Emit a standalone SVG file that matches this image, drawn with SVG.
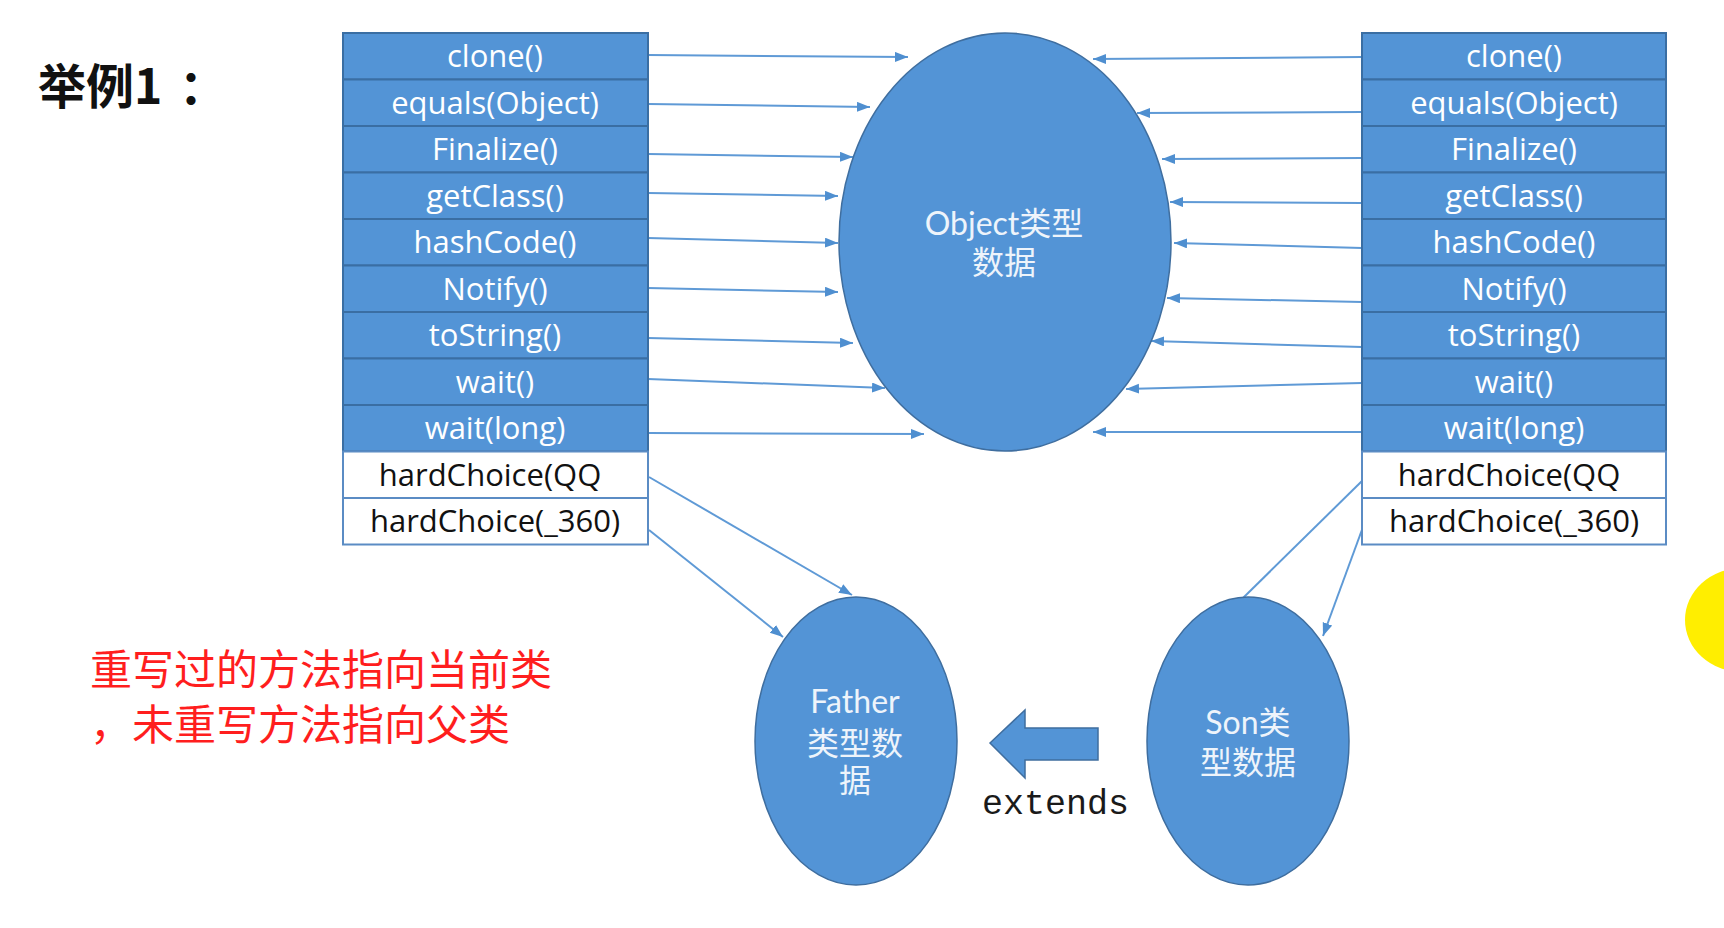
<svg xmlns="http://www.w3.org/2000/svg" width="1724" height="928" viewBox="0 0 1724 928">
<defs>
<style>
.row{fill:#5394d6;stroke:#3a6ea3;stroke-width:2}
.wrow{fill:#ffffff;stroke:#5b8cc4;stroke-width:2}
.rt{font-family:"Open Sans","Noto Sans CJK SC",sans-serif;font-size:31px;fill:#ffffff;text-anchor:middle}
.wt{font-family:"Open Sans","Noto Sans CJK SC",sans-serif;font-size:31px;fill:#111111;text-anchor:middle}
.ell{fill:#5394d6;stroke:#3f6e9f;stroke-width:1.5}
.et{font-family:"Lato","Noto Sans CJK SC",sans-serif;font-size:32px;fill:#eef4fb;text-anchor:middle}
.con{stroke:#5f9ad6;stroke-width:2;fill:none}
.arr{marker-end:url(#ah)}
</style>
<marker id="ah" markerUnits="userSpaceOnUse" markerWidth="14" markerHeight="12" refX="13" refY="5" orient="auto">
<path d="M0,0 L13,5 L0,10 z" fill="#4f8fd0"/>
</marker>
</defs>
<rect width="1724" height="928" fill="#ffffff"/>

<text id="title" x="38" y="104" font-family="Noto Sans CJK SC,sans-serif" font-weight="bold" font-size="48" fill="#111111">举例1<tspan x="179">：</tspan></text>

<g id="note" font-family="Noto Sans CJK SC,sans-serif" font-size="42" fill="#ff1e1e">
<text x="90" y="685">重写过的方法指向当前类</text>
<text x="90" y="740">，未重写方法指向父类</text>
</g>

<g id="connectors">
<line class="con arr" x1="648" y1="55" x2="908" y2="57"/>
<line class="con arr" x1="648" y1="104" x2="870" y2="107"/>
<line class="con arr" x1="648" y1="154" x2="853" y2="157"/>
<line class="con arr" x1="648" y1="193" x2="838" y2="196"/>
<line class="con arr" x1="648" y1="238" x2="838" y2="243"/>
<line class="con arr" x1="648" y1="288" x2="838" y2="292"/>
<line class="con arr" x1="648" y1="338" x2="853" y2="343"/>
<line class="con arr" x1="648" y1="379" x2="885" y2="388"/>
<line class="con arr" x1="648" y1="433" x2="924" y2="434"/>
<line class="con arr" x1="1362" y1="57" x2="1093" y2="59"/>
<line class="con arr" x1="1362" y1="112" x2="1137" y2="113"/>
<line class="con arr" x1="1362" y1="158" x2="1162" y2="159"/>
<line class="con arr" x1="1362" y1="203" x2="1170" y2="202"/>
<line class="con arr" x1="1362" y1="248" x2="1174" y2="243"/>
<line class="con arr" x1="1362" y1="302" x2="1167" y2="298"/>
<line class="con arr" x1="1362" y1="347" x2="1151" y2="341"/>
<line class="con arr" x1="1362" y1="383" x2="1126" y2="389"/>
<line class="con arr" x1="1362" y1="432" x2="1093" y2="432"/>
<line class="con arr" x1="649" y1="477" x2="852" y2="595"/>
<line class="con arr" x1="649" y1="530" x2="783" y2="637"/>
<line class="con" x1="1363" y1="480" x2="1243" y2="598"/>
<line class="con arr" x1="1363" y1="527" x2="1323" y2="636"/>
</g>

<g id="left-methods">
<rect class="row" x="343" y="33" width="305" height="46.5"/>
<rect class="row" x="343" y="79.5" width="305" height="46.5"/>
<rect class="row" x="343" y="126" width="305" height="46.5"/>
<rect class="row" x="343" y="172.5" width="305" height="46.5"/>
<rect class="row" x="343" y="219" width="305" height="46.5"/>
<rect class="row" x="343" y="265.5" width="305" height="46.5"/>
<rect class="row" x="343" y="312" width="305" height="46.5"/>
<rect class="row" x="343" y="358.5" width="305" height="46.5"/>
<rect class="row" x="343" y="405" width="305" height="46.5"/>
<rect class="wrow" x="343" y="451.5" width="305" height="46.5"/>
<rect class="wrow" x="343" y="498" width="305" height="46.5"/>
<text class="rt" x="495" y="67">clone()</text>
<text class="rt" x="495" y="113.5">equals(Object)</text>
<text class="rt" x="495" y="160">Finalize()</text>
<text class="rt" x="495" y="206.5">getClass()</text>
<text class="rt" x="495" y="253">hashCode()</text>
<text class="rt" x="495" y="299.5">Notify()</text>
<text class="rt" x="495" y="346">toString()</text>
<text class="rt" x="495" y="392.5">wait()</text>
<text class="rt" x="495" y="439">wait(long)</text>
<text class="wt" x="490" y="485.5">hardChoice(QQ</text>
<text class="wt" x="495" y="532">hardChoice(_360)</text>
</g>

<g id="right-methods">
<rect class="row" x="1362" y="33" width="304" height="46.5"/>
<rect class="row" x="1362" y="79.5" width="304" height="46.5"/>
<rect class="row" x="1362" y="126" width="304" height="46.5"/>
<rect class="row" x="1362" y="172.5" width="304" height="46.5"/>
<rect class="row" x="1362" y="219" width="304" height="46.5"/>
<rect class="row" x="1362" y="265.5" width="304" height="46.5"/>
<rect class="row" x="1362" y="312" width="304" height="46.5"/>
<rect class="row" x="1362" y="358.5" width="304" height="46.5"/>
<rect class="row" x="1362" y="405" width="304" height="46.5"/>
<rect class="wrow" x="1362" y="451.5" width="304" height="46.5"/>
<rect class="wrow" x="1362" y="498" width="304" height="46.5"/>
<text class="rt" x="1514" y="67">clone()</text>
<text class="rt" x="1514" y="113.5">equals(Object)</text>
<text class="rt" x="1514" y="160">Finalize()</text>
<text class="rt" x="1514" y="206.5">getClass()</text>
<text class="rt" x="1514" y="253">hashCode()</text>
<text class="rt" x="1514" y="299.5">Notify()</text>
<text class="rt" x="1514" y="346">toString()</text>
<text class="rt" x="1514" y="392.5">wait()</text>
<text class="rt" x="1514" y="439">wait(long)</text>
<text class="wt" x="1509" y="485.5">hardChoice(QQ</text>
<text class="wt" x="1514" y="532">hardChoice(_360)</text>
</g>

<g id="object-node">
<ellipse class="ell" cx="1005" cy="242" rx="166" ry="209"/>
<text class="et" x="1004" y="235">Object类型</text>
<text class="et" x="1004" y="274">数据</text>
</g>

<g id="father-node">
<ellipse class="ell" cx="856" cy="741" rx="101" ry="144"/>
<text class="et" x="855" y="713">Father</text>
<text class="et" x="855" y="755">类型数</text>
<text class="et" x="855" y="792">据</text>
</g>

<g id="son-node">
<ellipse class="ell" cx="1248" cy="741" rx="101" ry="144"/>
<text class="et" x="1248" y="734">Son类</text>
<text class="et" x="1248" y="774">型数据</text>
</g>

<g id="extends">
<path d="M990,743 L1025,710 L1025,728 L1098,728 L1098,760 L1025,760 L1025,778 Z" fill="#5394d6" stroke="#3f6e9f" stroke-width="1.5"/>
<text x="982" y="814" font-family="Liberation Mono,monospace" font-size="35" fill="#1a1a1a">extends</text>
</g>

<ellipse id="highlight" cx="1742" cy="620" rx="57" ry="52" fill="#ffee00"/>
</svg>
